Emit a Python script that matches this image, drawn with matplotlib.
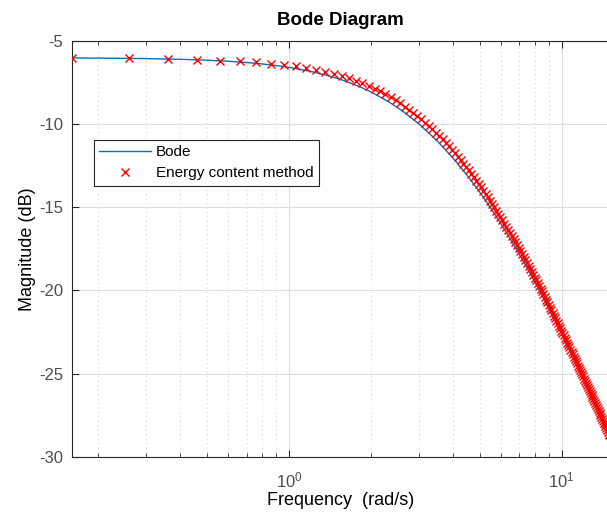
import numpy as np
import matplotlib
matplotlib.use("Agg")
import matplotlib.pyplot as plt
from matplotlib.ticker import LogLocator, NullFormatter

plt.rcParams['font.family'] = ['Liberation Sans', 'DejaVu Sans']
plt.rcParams['mathtext.fontset'] = 'custom'
plt.rcParams['mathtext.rm'] = 'Liberation Sans'
plt.rcParams['axes.unicode_minus'] = False

# bode magnitude (rad/s, dB)
w_bode = [0.16, 0.2, 0.3, 0.4, 0.5, 0.6, 0.7, 0.8, 0.9, 1.0, 1.2, 1.4, 1.6, 1.8,
          2.0, 2.3, 2.6, 3.0, 3.5, 4.0, 4.5, 5.0, 5.5, 6.0, 6.5, 7.0, 7.5, 8.0,
          8.5, 9.0, 10, 11, 12, 13, 14, 15]
mag_bode = [-6.036, -6.045, -6.075, -6.116, -6.170, -6.234, -6.310, -6.396,
            -6.492, -6.597, -6.836, -7.107, -7.406, -7.730, -8.075, -8.624,
            -9.201, -10.000, -11.024, -12.055, -13.078, -14.083, -15.065,
            -16.021, -16.947, -17.844, -18.711, -19.548, -20.358, -21.139,
            -22.625, -24.014, -25.315, -26.537, -27.688, -28.774]

# energy content method samples
w_ecm = [0.16, 0.26, 0.36, 0.46, 0.56, 0.66, 0.76, 0.86, 0.96, 1.06,
         1.16, 1.26, 1.36, 1.46, 1.56, 1.66, 1.76, 1.86, 1.96, 2.06,
         2.16, 2.26, 2.36, 2.46, 2.56, 2.66, 2.76, 2.86, 2.96, 3.06,
         3.16, 3.26, 3.36, 3.46, 3.56, 3.66, 3.76, 3.86, 3.96, 4.06,
         4.16, 4.26, 4.36, 4.46, 4.56, 4.66, 4.76, 4.86, 4.96, 5.06,
         5.16, 5.26, 5.36, 5.46, 5.56, 5.66, 5.76, 5.86, 5.96, 6.06,
         6.16, 6.26, 6.36, 6.46, 6.56, 6.66, 6.76, 6.86, 6.96, 7.06,
         7.16, 7.26, 7.36, 7.46, 7.56, 7.66, 7.76, 7.86, 7.96, 8.06,
         8.16, 8.26, 8.36, 8.46, 8.56, 8.66, 8.76, 8.86, 8.96, 9.06,
         9.16, 9.26, 9.36, 9.46, 9.56, 9.66, 9.76, 9.86, 9.96, 10.06,
         10.16, 10.26, 10.36, 10.46, 10.56, 10.66, 10.76, 10.86, 10.96, 11.06,
         11.16, 11.26, 11.36, 11.46, 11.56, 11.66, 11.76, 11.86, 11.96, 12.06,
         12.16, 12.26, 12.36, 12.46, 12.56, 12.66, 12.76, 12.86, 12.96, 13.06,
         13.16, 13.26, 13.36, 13.46, 13.56, 13.66, 13.76, 13.86, 13.96, 14.06,
         14.16, 14.26, 14.36, 14.46, 14.56, 14.66, 14.76, 14.86, 14.96]
mag_ecm = [-6.04, -6.06, -6.10, -6.14, -6.19, -6.24, -6.30, -6.37, -6.44, -6.53,
           -6.64, -6.74, -6.86, -6.98, -7.11, -7.26, -7.40, -7.56, -7.72, -7.88,
           -8.05, -8.23, -8.41, -8.59, -8.77, -8.96, -9.15, -9.34, -9.53, -9.72,
           -9.93, -10.12, -10.33, -10.53, -10.73, -10.93, -11.14, -11.35, -11.55, -11.76,
           -11.96, -12.17, -12.38, -12.59, -12.79, -12.99, -13.20, -13.40, -13.60, -13.80,
           -14.01, -14.21, -14.41, -14.61, -14.81, -15.00, -15.21, -15.40, -15.60, -15.78,
           -15.98, -16.17, -16.36, -16.54, -16.74, -16.92, -17.11, -17.29, -17.47, -17.65,
           -17.83, -18.01, -18.19, -18.36, -18.54, -18.71, -18.89, -19.06, -19.23, -19.40,
           -19.57, -19.73, -19.90, -20.06, -20.23, -20.39, -20.56, -20.71, -20.88, -21.03,
           -21.19, -21.35, -21.51, -21.66, -21.81, -21.96, -22.12, -22.26, -22.41, -22.56,
           -22.70, -22.84, -22.99, -23.14, -23.27, -23.42, -23.56, -23.70, -23.84, -23.97,
           -24.11, -24.24, -24.38, -24.51, -24.64, -24.77, -24.91, -25.04, -25.16, -25.29,
           -25.43, -25.55, -25.67, -25.80, -25.93, -26.05, -26.17, -26.29, -26.41, -26.54,
           -26.66, -26.77, -26.89, -27.01, -27.13, -27.24, -27.36, -27.47, -27.59, -27.70,
           -27.82, -27.93, -28.04, -28.15, -28.26, -28.37, -28.48, -28.59, -28.69]

ax_col = '#262626'

fig = plt.figure(figsize=(6.07, 5.14), dpi=100)
ax = fig.add_axes([0.1181, 0.1109, 0.8865, 0.8099])

ax.semilogx(w_bode, mag_bode, color='#0072BD', lw=1.0, label='Bode', zorder=3)
ax.semilogx(w_ecm, mag_ecm, 'x', color='red', ms=6, mew=1.0,
            label='Energy content method', zorder=4)

ax.set_xlim(0.16, 15)
ax.set_ylim(-30, -5)
ax.set_yticks([-30, -25, -20, -15, -10, -5])
ax.xaxis.set_major_locator(LogLocator(base=10, numticks=10))
ax.xaxis.set_minor_locator(LogLocator(base=10, subs=np.arange(2, 10), numticks=20))
ax.xaxis.set_minor_formatter(NullFormatter())

ax.grid(True, which='major', color='#dedede', lw=0.8, ls='-')
ax.grid(True, which='minor', axis='x', color='#d4d4d4', lw=0.8, ls=(0, (1, 3)))
ax.set_axisbelow(True)

ax.tick_params(which='both', direction='in', top=True, right=False,
               colors=ax_col, labelcolor='#4d4d4d', labelsize=12)
ax.tick_params(which='major', length=5, width=0.8)
ax.tick_params(which='minor', length=3, width=0.6)
ax.tick_params(axis='x', pad=10)
ax.tick_params(axis='y', pad=6)
for s in ax.spines.values():
    s.set_color(ax_col)
    s.set_linewidth(0.8)

ax.set_title('Bode Diagram', fontsize=13.5, fontweight='bold', pad=11)
ax.set_xlabel('Frequency  (rad/s)', fontsize=13, labelpad=1)
ax.set_ylabel('Magnitude (dB)', fontsize=13, labelpad=2)

leg = ax.legend(loc='upper left', bbox_to_anchor=(0.0414, 0.7615),
                borderaxespad=0, fancybox=False, framealpha=1,
                edgecolor=ax_col, fontsize=11, handlelength=3.4,
                handletextpad=0.3, borderpad=0.35, labelspacing=0.45)
leg.get_frame().set_linewidth(0.8)

fig.savefig('out.png', dpi=100)
